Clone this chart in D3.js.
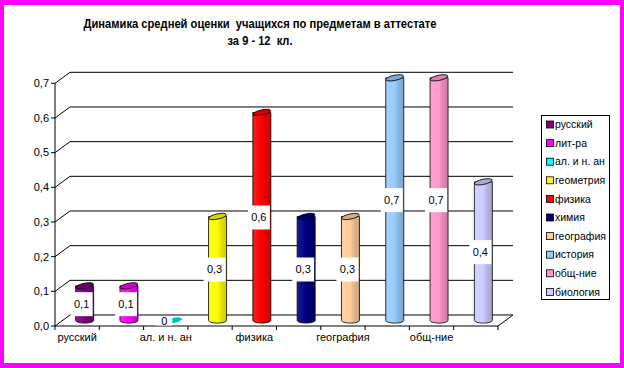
<!DOCTYPE html>
<html><head><meta charset="utf-8">
<script src="https://cdn.jsdelivr.net/npm/d3@7"></script>
<style>body{margin:0;background:#fff}svg{display:block}text{font-family:"Liberation Sans",Arial,sans-serif}</style>
</head><body>
<svg id="c" width="624" height="368"></svg>
<script>
const subjects = ["русский","лит-ра","ал. и н. ан","геометрия","физика","химия","география","история","общ-ние","биология"];
const values   = [0.1, 0.1, 0, 0.3, 0.6, 0.3, 0.3, 0.7, 0.7, 0.4];
const colors   = ["#800080","#FF00FF","#00FFFF","#FFFF00","#FF0000","#000080","#FFCC99","#99CCFF","#FF99CC","#CCCCFF"];
const yTicks   = [0, 0.1, 0.2, 0.3, 0.4, 0.5, 0.6, 0.7];
const xAxisLabels = ["русский","","ал. и н. ан","","физика","","география","","общ-ние",""];
const titleLines = ["Динамика средней оценки  учащихся по предметам в аттестате", "за 9 - 12  кл."];

const svg = d3.select("#c");
const ru = d3.formatLocale({decimal:",", thousands:" ", grouping:[3], currency:["",""]});
const fmt = ru.format(".1f");
const fmtLabel = v => v === 0 ? "0" : ru.format(".1f")(v);

// frame
svg.append("rect").attr("width",624).attr("height",368).attr("fill","#FF00FF");
svg.append("rect").attr("x",4).attr("y",5).attr("width",616).attr("height",358).attr("fill","#fff");

// title
const tl = [{t:titleLines[0], y:28, w:353},{t:titleLines[1], y:45, w:65}];
svg.selectAll(".title").data(tl).join("text")
  .attr("x",260).attr("y",d=>d.y).attr("text-anchor","middle")
  .attr("font-size",13.5).attr("font-weight","bold").style("white-space","pre")
  .attr("textLength",d=>d.w).attr("lengthAdjust","spacingAndGlyphs")
  .text(d=>d.t);

const x = d3.scaleBand().domain(subjects).range([55, 498]).padding(0);
const y = d3.scaleLinear().domain([0, 0.7]).range([326, 83.3]);
const DX = 15, DY = -11;

const g = svg.append("g");
yTicks.forEach(t => {
  g.append("path").attr("d", `M55,${y(t)}L${55+DX},${y(t)+DY}L${498+DX},${y(t)+DY}`)
    .attr("fill","none").attr("stroke","#000").attr("stroke-width",1);
});
g.append("path").attr("d",`M55,${y(0)}L498,${y(0)}L${498+DX},${y(0)+DY}`).attr("fill","none").attr("stroke","#000");
g.append("line").attr("x1",55).attr("x2",55).attr("y1",y(0.7)).attr("y2",y(0)).attr("stroke","#000");
yTicks.forEach(t=>{
  g.append("line").attr("x1",51).attr("x2",55).attr("y1",y(t)).attr("y2",y(t)).attr("stroke","#000");
  g.append("text").attr("x",49).attr("y",y(t)).attr("dy","0.35em").attr("text-anchor","end")
   .attr("font-size",11).text(fmt(t));
});
const bounds = subjects.map(s=>x(s)).concat([498]);
bounds.forEach(b=>g.append("line").attr("x1",b).attr("x2",b).attr("y1",y(0)).attr("y2",y(0)+4).attr("stroke","#000"));
subjects.forEach((s,i)=>{
  if (!xAxisLabels[i]) return;
  g.append("text").attr("x",x(s)+x.bandwidth()/2).attr("y",341).attr("text-anchor","middle")
   .attr("font-size",11).text(xAxisLabels[i]);
});

const defs = svg.append("defs");
colors.forEach((c,i)=>{
  const gr = defs.append("linearGradient").attr("id","g"+i).attr("x1","0").attr("x2","1").attr("y1","0").attr("y2","0");
  const col = d3.color(c);
  gr.append("stop").attr("offset","0%").attr("stop-color", d3.interpolateRgb(c,"#fff")(0.1));
  gr.append("stop").attr("offset","50%").attr("stop-color", c);
  gr.append("stop").attr("offset","70%").attr("stop-color", col.darker(0.35).formatHex());
  gr.append("stop").attr("offset","100%").attr("stop-color", col.darker(0.6).formatHex());
});

const hw = 9, ry = 2.6;
const baseY = y(0) + DY/2;
const bars = svg.append("g");
subjects.forEach((s,i)=>{
  const v = values[i];
  const cx = x(s) + x.bandwidth()/2 + DX/2;
  const top = y(v) + DY/2;
  const col = d3.color(colors[i]);
  if (v > 0) {
    bars.append("path")
      .attr("d",`M${cx-hw},${top}L${cx-hw},${baseY}A${hw},${ry} 0 0 0 ${cx+hw},${baseY}L${cx+hw},${top}Z`)
      .attr("fill",`url(#g${i})`).attr("stroke","#000").attr("stroke-width",0.8);
  }
  bars.append("ellipse").attr("cx",cx).attr("cy",top).attr("rx",hw).attr("ry",ry)
    .attr("transform",`rotate(-12,${cx},${top})`)
    .attr("fill", v>0 ? col.darker(0.5).formatHex() : col.darker(0.8).formatHex())
    .attr("stroke", v>0 ? "#000" : "none").attr("stroke-width",0.8);
});

const labels = svg.append("g");
subjects.forEach((s,i)=>{
  const v = values[i];
  const cx = x(s) + x.bandwidth()/2 + DX/2 - 3;
  const top = y(v) + DY/2;
  if (v > 0) {
    const cy = (top + baseY)/2 + 1;
    labels.append("rect").attr("x",cx-11).attr("y",cy-12).attr("width",22).attr("height",24).attr("fill","#fff");
    labels.append("text").attr("x",cx).attr("y",cy).attr("dy","0.35em").attr("text-anchor","middle")
      .attr("font-size",11).text(fmtLabel(v));
  } else {
    const cy = 321;
    labels.append("rect").attr("x",cx-14).attr("y",316).attr("width",16).attr("height",9.5).attr("fill","#fff");
    labels.append("text").attr("x",cx-6).attr("y",cy).attr("dy","0.35em").attr("text-anchor","middle")
      .attr("font-size",11).text(fmtLabel(v));
  }
});

const lg = svg.append("g");
lg.append("rect").attr("x",541.5).attr("y",115.5).attr("width",68).attr("height",184).attr("fill","#fff").attr("stroke","#000");
subjects.forEach((s,i)=>{
  const cy = 124.5 + i*18.6;
  lg.append("rect").attr("x",546.5).attr("y",cy-3.5).attr("width",7).attr("height",7)
    .attr("fill",colors[i]).attr("stroke","#000").attr("stroke-width",0.8);
  lg.append("text").attr("x",555).attr("y",cy).attr("dy","0.35em").attr("font-size",10.5).text(s);
});
</script>
</body></html>
